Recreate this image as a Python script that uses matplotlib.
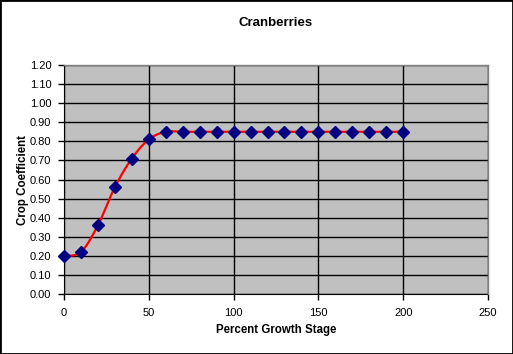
import matplotlib
matplotlib.use("Agg")
import matplotlib.pyplot as plt
import numpy as np
from matplotlib.patches import Rectangle

growth_stage = [0, 10, 20, 30, 40, 50, 60, 70, 80, 90, 100, 110, 120, 130, 140, 150, 160, 170, 180, 190, 200]
crop_coeff = [0.20, 0.22, 0.36, 0.56, 0.71, 0.81, 0.85, 0.85, 0.85, 0.85, 0.85, 0.85, 0.85, 0.85, 0.85, 0.85, 0.85, 0.85, 0.85, 0.85, 0.85]
x_ticks = [0, 50, 100, 150, 200, 250]
y_ticks = [round(0.1 * i, 2) for i in range(13)]

plt.rcParams['font.family'] = ['Liberation Sans', 'DejaVu Sans']

W, H = 513, 354
fig = plt.figure(figsize=(W / 100, H / 100), dpi=100)
fig.patch.set_facecolor('white')
ax = fig.add_axes([64 / W, (H - 294) / H, (488 - 64) / W, (294 - 65) / H])
ax.set_facecolor('#c0c0c0')

# Excel-style smoothed line (Catmull-Rom via cubic Bezier)
px = np.array(growth_stage, dtype=float)
py = np.array(crop_coeff, dtype=float)
sx, sy = [], []
n = len(px)
t = np.linspace(0, 1, 20)
for i in range(n - 1):
    p0 = np.array([px[max(i - 1, 0)], py[max(i - 1, 0)]])
    p1 = np.array([px[i], py[i]])
    p2 = np.array([px[i + 1], py[i + 1]])
    p3 = np.array([px[min(i + 2, n - 1)], py[min(i + 2, n - 1)]])
    c1 = p1 + (p2 - p0) / 6
    c2 = p2 - (p3 - p1) / 6
    b = ((1 - t) ** 3)[:, None] * p1 + (3 * (1 - t) ** 2 * t)[:, None] * c1 + (3 * (1 - t) * t ** 2)[:, None] * c2 + (t ** 3)[:, None] * p2
    sx.extend(b[:, 0]); sy.extend(b[:, 1])

ax.plot(sx, sy, color='#ff0000', linewidth=1.6, zorder=3)
ax.plot(growth_stage, crop_coeff, linestyle='none', marker='D', markersize=6.5,
        markerfacecolor='#000080', markeredgecolor='#000080', zorder=4, clip_on=False)

ax.set_xlim(0, 250)
ax.set_ylim(0, 1.2)
ax.set_xticks(x_ticks)
ax.set_yticks(y_ticks)
ax.set_yticklabels([f"{v:.2f}" for v in y_ticks])
ax.xaxis.grid(True, color='black', linewidth=1)
ax.yaxis.grid(True, color='black', linewidth=1)
ax.set_axisbelow(True)
for s in ['top', 'right']:
    ax.spines[s].set_color('#808080')
    ax.spines[s].set_linewidth(1)
    ax.spines[s].set_zorder(2.6)
ax.spines['left'].set_color('black')
ax.spines['bottom'].set_color('black')
ax.tick_params(axis='both', direction='out', length=4, width=1, labelsize=8, colors='black')
ax.tick_params(axis='x', pad=6)
ax.tick_params(axis='y', pad=5)

fig.text(276 / W, 1 - 23 / H, 'Cranberries', ha='center', va='center', fontsize=9.5, fontweight='bold')
fig.text(276 / W, 1 - 330 / H, 'Percent Growth Stage', ha='center', va='center', fontsize=8.3, fontweight='bold')
fig.text(23 / W, 1 - 180 / H, 'Crop Coefficient', ha='center', va='center', fontsize=8.3, fontweight='bold', rotation=90)

fig.patches.append(Rectangle((0, 0), 1, 1, transform=fig.transFigure, fill=False,
                             edgecolor='black', linewidth=2, zorder=10))

fig.savefig('out.png', dpi=100)
